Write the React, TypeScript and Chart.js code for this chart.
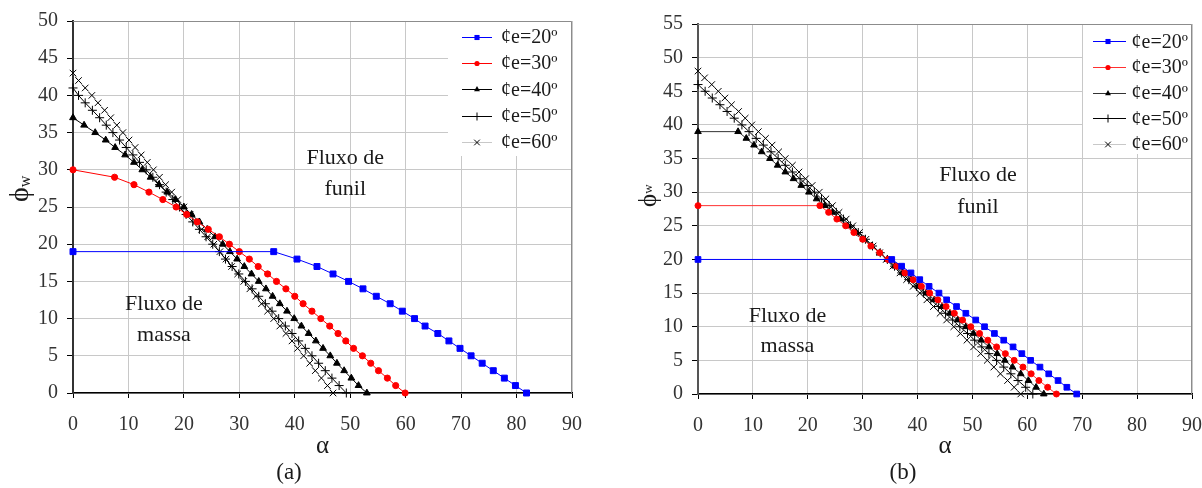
import React, { useEffect, useRef } from "react";
import { Chart, registerables } from "chart.js";
Chart.register(...registerables);

// ---------- tick labels ----------
const xTickValues = [0, 10, 20, 30, 40, 50, 60, 70, 80, 90];
const yTickValuesA = [0, 5, 10, 15, 20, 25, 30, 35, 40, 45, 50];
const yTickValuesB = [0, 5, 10, 15, 20, 25, 30, 35, 40, 45, 50, 55];
const seriesLabels = ["¢e=20º", "¢e=30º", "¢e=40º", "¢e=50º", "¢e=60º"];

// ---------- chart (a) ----------
const a20Alpha = [0, 36.2, 40.4, 44.0, 46.9, 49.7, 52.3, 54.7, 57.2, 59.4, 61.6, 63.5, 65.8, 67.8, 69.8, 71.8, 73.8, 75.8, 77.8, 79.8, 81.8];
const a20Phi = [19, 19, 18, 17, 16, 15, 14, 13, 12, 11, 10, 9, 8, 7, 6, 5, 4, 3, 2, 1, 0];

const a30Alpha = [0, 7.5, 11.0, 13.7, 16.2, 18.6, 20.5, 22.4, 24.4, 26.4, 28.2, 30.0, 31.8, 33.4, 35.1, 36.7, 38.4, 40.0, 41.5, 43.1, 44.7, 46.3, 47.8, 49.2, 50.6, 52.2, 53.7, 55.1, 56.7, 58.2, 59.9];
const a30Phi = [30, 29, 28, 27, 26, 25, 24, 23, 22, 21, 20, 19, 18, 17, 16, 15, 14, 13, 12, 11, 10, 9, 8, 7, 6, 5, 4, 3, 2, 1, 0];

const a40Alpha = [0, 2.0, 4.0, 5.9, 7.6, 9.4, 11.0, 12.5, 14.0, 15.5, 17.0, 18.5, 20.0, 21.4, 22.8, 24.2, 25.6, 27.0, 28.3, 29.6, 30.9, 32.2, 33.5, 34.8, 36.0, 37.3, 38.6, 39.9, 41.2, 42.5, 43.8, 45.1, 46.4, 47.6, 48.9, 50.2, 51.5, 53.0];
const a40Phi = [37, 36, 35, 34, 33, 32, 31, 30, 29, 28, 27, 26, 25, 24, 23, 22, 21, 20, 19, 18, 17, 16, 15, 14, 13, 12, 11, 10, 9, 8, 7, 6, 5, 4, 3, 2, 1, 0];

const a50Alpha = [0, 1.0, 2.2, 3.5, 4.8, 6.0, 7.2, 8.4, 9.6, 10.8, 12.0, 13.2, 14.4, 15.6, 16.8, 18.0, 19.2, 20.4, 21.6, 22.8, 24.0, 25.2, 26.4, 27.5, 28.7, 29.9, 31.1, 32.3, 33.5, 34.7, 35.9, 37.1, 38.3, 39.5, 40.7, 41.9, 43.1, 44.3, 45.5, 46.7, 48.0, 49.3];
const a50Phi = [41, 40, 39, 38, 37, 36, 35, 34, 33, 32, 31, 30, 29, 28, 27, 26, 25, 24, 23, 22, 21, 20, 19, 18, 17, 16, 15, 14, 13, 12, 11, 10, 9, 8, 7, 6, 5, 4, 3, 2, 1, 0];

const a60Alpha = [0, 1.0, 2.2, 3.4, 4.5, 5.7, 6.8, 7.9, 9.0, 10.1, 11.2, 12.3, 13.4, 14.5, 15.6, 16.7, 17.8, 18.9, 20.0, 21.1, 22.1, 23.2, 24.3, 25.4, 26.5, 27.6, 28.6, 29.7, 30.8, 31.9, 33.0, 34.0, 35.1, 36.2, 37.3, 38.4, 39.5, 40.5, 41.6, 42.7, 43.7, 44.8, 45.9, 46.9];
const a60Phi = [43, 42, 41, 40, 39, 38, 37, 36, 35, 34, 33, 32, 31, 30, 29, 28, 27, 26, 25, 24, 23, 22, 21, 20, 19, 18, 17, 16, 15, 14, 13, 12, 11, 10, 9, 8, 7, 6, 5, 4, 3, 2, 1, 0];

// ---------- chart (b) ----------
const b20Alpha = [0, 35.3, 37.1, 38.8, 40.4, 42.1, 43.9, 45.3, 47.1, 48.8, 50.6, 52.2, 54.0, 55.7, 57.4, 59.0, 60.6, 62.3, 63.9, 65.6, 67.2, 69.0];
const b20Phi = [20, 20, 19, 18, 17, 16, 15, 14, 13, 12, 11, 10, 9, 8, 7, 6, 5, 4, 3, 2, 1, 0];

const b30Alpha = [0, 22.2, 23.8, 25.3, 26.9, 28.4, 30.0, 31.5, 33.1, 34.6, 36.2, 37.7, 39.2, 40.7, 42.2, 43.7, 45.2, 46.7, 48.2, 49.7, 51.3, 52.8, 54.4, 56.0, 57.6, 59.2, 60.7, 62.1, 63.7, 65.3];
const b30Phi = [28, 28, 27, 26, 25, 24, 23, 22, 21, 20, 19, 18, 17, 16, 15, 14, 13, 12, 11, 10, 9, 8, 7, 6, 5, 4, 3, 2, 1, 0];

const b40Alpha = [0, 7.3, 8.8, 10.2, 11.6, 13.1, 14.5, 15.9, 17.4, 18.8, 20.2, 21.6, 23.1, 24.5, 25.9, 27.3, 28.8, 30.2, 31.6, 33.1, 34.5, 35.9, 37.3, 38.8, 40.2, 41.6, 43.1, 44.5, 45.9, 47.3, 48.8, 50.2, 51.6, 53.0, 54.5, 55.9, 57.3, 58.8, 60.2, 61.6, 63.0];
const b40Phi = [39, 39, 38, 37, 36, 35, 34, 33, 32, 31, 30, 29, 28, 27, 26, 25, 24, 23, 22, 21, 20, 19, 18, 17, 16, 15, 14, 13, 12, 11, 10, 9, 8, 7, 6, 5, 4, 3, 2, 1, 0];

const b50Alpha = [0, 1.3, 2.6, 4.0, 5.3, 6.6, 8.0, 9.3, 10.6, 11.9, 13.3, 14.6, 15.9, 17.2, 18.6, 19.9, 21.2, 22.5, 23.9, 25.2, 26.5, 27.8, 29.2, 30.5, 31.8, 33.2, 34.5, 35.8, 37.1, 38.4, 39.8, 41.1, 42.4, 43.8, 45.1, 46.4, 47.7, 49.1, 50.4, 51.7, 53.0, 54.4, 55.7, 57.0, 58.3, 59.7, 61.0];
const b50Phi = [46, 45, 44, 43, 42, 41, 40, 39, 38, 37, 36, 35, 34, 33, 32, 31, 30, 29, 28, 27, 26, 25, 24, 23, 22, 21, 20, 19, 18, 17, 16, 15, 14, 13, 12, 11, 10, 9, 8, 7, 6, 5, 4, 3, 2, 1, 0];

const b60Alpha = [0, 1.2, 2.5, 3.7, 4.9, 6.1, 7.4, 8.6, 9.8, 11.0, 12.3, 13.5, 14.7, 15.9, 17.2, 18.4, 19.6, 20.8, 22.1, 23.3, 24.5, 25.7, 27.0, 28.2, 29.4, 30.6, 31.9, 33.1, 34.3, 35.5, 36.8, 38.0, 39.2, 40.4, 41.7, 42.9, 44.1, 45.3, 46.6, 47.8, 49.0, 50.2, 51.5, 52.7, 53.9, 55.1, 56.4, 57.6, 58.8];
const b60Phi = [48, 47, 46, 45, 44, 43, 42, 41, 40, 39, 38, 37, 36, 35, 34, 33, 32, 31, 30, 29, 28, 27, 26, 25, 24, 23, 22, 21, 20, 19, 18, 17, 16, 15, 14, 13, 12, 11, 10, 9, 8, 7, 6, 5, 4, 3, 2, 1, 0];

// ---------- styles ----------
const FONT = '"Liberation Serif", "Times New Roman", serif';
type Style = { color: string; line: string; point: string; r: number; lr: number };
const stylesA: Style[] = [
  { color: "#0000ff", line: "#0000ff", point: "rect", r: 4.2, lr: 3.6 },
  { color: "#ff0000", line: "#ff0000", point: "circle", r: 3.1, lr: 2.6 },
  { color: "#000000", line: "#000000", point: "triangle", r: 3.9, lr: 3.4 },
  { color: "#000000", line: "#000000", point: "cross", r: 4.5, lr: 4 },
  { color: "#000000", line: "#c8c8c8", point: "crossRot", r: 4.6, lr: 4 },
];
const stylesB: Style[] = [
  { color: "#0000ff", line: "#0000ff", point: "rect", r: 4, lr: 3.6 },
  { color: "#ff0000", line: "#ff3030", point: "circle", r: 3, lr: 2.6 },
  { color: "#000000", line: "#333333", point: "triangle", r: 3.8, lr: 3.4 },
  { color: "#000000", line: "#000000", point: "cross", r: 4.5, lr: 4 },
  { color: "#000000", line: "#c8c8c8", point: "crossRot", r: 4.6, lr: 4 },
];

type Note = { text: string; a: number; p: number };
type Layout = {
  yW: number; xH: number; top: number; right: number; yMax: number; yTicks: number[];
  legend: { w: number; h: number; lineX0: number; lineX1: number; markX: number; textX: number; row0: number; rowStep: number };
  notes: Note[];
  phiPos: { x: number; y: number; big: number; small: number; sub: number };
  caption: { text: string; x: number; y: number };
  axisBorder: string;
};

function drawMarker(ctx: CanvasRenderingContext2D, style: string, x: number, y: number, r: number, color: string) {
  ctx.save();
  ctx.fillStyle = color;
  ctx.strokeStyle = color;
  ctx.lineWidth = 1;
  ctx.beginPath();
  if (style === "rect") {
    const s = r * Math.SQRT1_2;
    ctx.rect(x - s, y - s, 2 * s, 2 * s);
    ctx.fill();
  } else if (style === "circle") {
    ctx.arc(x, y, r, 0, Math.PI * 2);
    ctx.fill();
  } else if (style === "triangle") {
    ctx.moveTo(x, y - r);
    ctx.lineTo(x + r * 0.866, y + r * 0.5);
    ctx.lineTo(x - r * 0.866, y + r * 0.5);
    ctx.closePath();
    ctx.fill();
  } else if (style === "cross") {
    ctx.moveTo(x, y - r);
    ctx.lineTo(x, y + r);
    ctx.moveTo(x - r, y);
    ctx.lineTo(x + r, y);
    ctx.stroke();
  } else {
    const d = r * Math.SQRT1_2;
    ctx.moveTo(x - d, y - d);
    ctx.lineTo(x + d, y + d);
    ctx.moveTo(x + d, y - d);
    ctx.lineTo(x - d, y + d);
    ctx.stroke();
  }
  ctx.restore();
}

function makePlugin(L: Layout, styles: Style[]) {
  return {
    id: "decor",
    afterDraw(chart: any) {
      const { ctx, chartArea: ca, scales } = chart;
      const xs = scales.x, ys = scales.y;
      ctx.save();
      // region notes
      ctx.font = `22px ${FONT}`;
      ctx.fillStyle = "#1a1a1a";
      ctx.textAlign = "center";
      ctx.textBaseline = "middle";
      for (const n of L.notes) ctx.fillText(n.text, xs.getPixelForValue(n.a), ys.getPixelForValue(n.p));

      // legend
      const lg = L.legend;
      const bx = ca.right - lg.w;
      const by = ca.top;
      ctx.fillStyle = "#ffffff";
      ctx.fillRect(bx, by + 1, lg.w - 1, lg.h);
      ctx.font = `20px ${FONT}`;
      ctx.textAlign = "left";
      ctx.textBaseline = "middle";
      chart.data.datasets.forEach((ds: any, i: number) => {
        const st = styles[i];
        const yy = by + lg.row0 + i * lg.rowStep;
        ctx.strokeStyle = st.line;
        ctx.lineWidth = 1;
        ctx.beginPath();
        ctx.moveTo(bx + lg.lineX0, Math.round(yy) + 0.5);
        ctx.lineTo(bx + lg.lineX1, Math.round(yy) + 0.5);
        ctx.stroke();
        drawMarker(ctx, st.point, bx + lg.markX, Math.round(yy) + 0.5, st.lr, st.color);
        ctx.fillStyle = "#1a1a1a";
        ctx.fillText(ds.label, bx + lg.textX, yy + 1);
      });

      // top & right border
      ctx.strokeStyle = "#8c8c8c";
      ctx.lineWidth = 1;
      ctx.beginPath();
      ctx.moveTo(ca.left, Math.round(ca.top) + 0.5);
      ctx.lineTo(Math.round(ca.right) - 0.5, Math.round(ca.top) + 0.5);
      ctx.lineTo(Math.round(ca.right) - 0.5, ca.bottom);
      ctx.stroke();

      // x title
      ctx.fillStyle = "#1a1a1a";
      ctx.font = `25px ${FONT}`;
      ctx.textAlign = "center";
      ctx.textBaseline = "middle";
      ctx.fillText("α", (ca.left + ca.right) / 2, 446);

      // caption
      ctx.font = `23px ${FONT}`;
      ctx.fillText(L.caption.text, L.caption.x, L.caption.y);

      // y title (rotated ϕw)
      const p = L.phiPos;
      ctx.save();
      ctx.translate(p.x, p.y);
      ctx.rotate(-Math.PI / 2);
      ctx.textAlign = "left";
      ctx.textBaseline = "alphabetic";
      ctx.font = `${p.big}px ${FONT}`;
      ctx.fillText("ϕ", 0, 0);
      const w = ctx.measureText("ϕ").width;
      ctx.font = `${p.small}px ${FONT}`;
      ctx.fillText("w", w, p.sub);
      ctx.restore();

      ctx.restore();
    },
  };
}

function buildConfig(alphas: number[][], phis: number[][], styles: Style[], L: Layout) {
  return {
    type: "scatter" as const,
    data: {
      datasets: alphas.map((al, i) => ({
        label: seriesLabels[i],
        data: al.map((a, j) => ({ x: a, y: phis[i][j] })),
        showLine: true,
        borderColor: styles[i].line,
        borderWidth: 1,
        pointStyle: styles[i].point,
        pointRadius: styles[i].r,
        pointBackgroundColor: styles[i].color,
        pointBorderColor: styles[i].color,
        pointBorderWidth: 1,
        clip: false,
        tension: 0,
      })),
    },
    options: {
      responsive: false,
      animation: false,
      events: [],
      layout: { padding: { top: L.top, right: L.right, left: 0, bottom: 0 } },
      plugins: { legend: { display: false }, tooltip: { enabled: false } },
      scales: {
        x: {
          type: "linear",
          min: 0,
          max: 90,
          afterBuildTicks: (s: any) => {
            s.ticks = xTickValues.map((v) => ({ value: v }));
          },
          afterFit: (s: any) => {
            s.height = L.xH;
          },
          ticks: { font: { family: FONT, size: 20 }, color: "#333333", padding: 15, maxRotation: 0, autoSkip: false },
          grid: { color: "#c8c8c8", lineWidth: 1, tickColor: "#000000", tickLength: 5, drawTicks: true },
          border: { color: "#000000", width: 1.5 },
        },
        y: {
          type: "linear",
          min: 0,
          max: L.yMax,
          afterBuildTicks: (s: any) => {
            s.ticks = L.yTicks.map((v) => ({ value: v }));
          },
          afterFit: (s: any) => {
            s.width = L.yW;
          },
          ticks: { font: { family: FONT, size: 20 }, color: "#333333", padding: 9 },
          grid: { color: "#c8c8c8", lineWidth: 1, tickColor: "#000000", tickLength: 6, drawTicks: true },
          border: { color: L.axisBorder, width: 2 },
        },
      },
    },
    plugins: [makePlugin(L, styles)],
  };
}

const layoutA: Layout = {
  yW: 73, xH: 95, top: 19, right: 28, yMax: 50, yTicks: yTickValuesA,
  legend: { w: 124, h: 134, lineX0: 14, lineX1: 44, markX: 29, textX: 53, row0: 16, rowStep: 26.2 },
  notes: [
    { text: "Fluxo de", a: 49.1, p: 31.6 },
    { text: "funil", a: 49.1, p: 27.4 },
    { text: "Fluxo de", a: 16.4, p: 11.9 },
    { text: "massa", a: 16.4, p: 7.8 },
  ],
  phiPos: { x: 28, y: 202, big: 28, small: 16, sub: 2 },
  caption: { text: "(a)", x: 289, y: 473 },
  axisBorder: "#333333",
};

const layoutB: Layout = {
  yW: 98, xH: 94, top: 24, right: 28, yMax: 55, yTicks: yTickValuesB,
  legend: { w: 109, h: 129, lineX0: 10, lineX1: 43, markX: 25, textX: 48.5, row0: 17.3, rowStep: 25.7 },
  notes: [
    { text: "Fluxo de", a: 51.0, p: 32.5 },
    { text: "funil", a: 51.0, p: 27.8 },
    { text: "Fluxo de", a: 16.3, p: 11.6 },
    { text: "massa", a: 16.3, p: 7.1 },
  ],
  phiPos: { x: 56, y: 207, big: 25, small: 13, sub: -4 },
  caption: { text: "(b)", x: 303, y: 473 },
  axisBorder: "#555555",
};

function ChartCanvas(props: { make: () => any; left: number; width: number }) {
  const ref = useRef<HTMLCanvasElement>(null);
  useEffect(() => {
    const chart = new Chart(ref.current as HTMLCanvasElement, props.make());
    return () => chart.destroy();
  }, []);
  return (
    <canvas
      ref={ref}
      width={props.width}
      height={488}
      style={{ position: "absolute", left: props.left, top: 0, width: props.width, height: 488 }}
    />
  );
}

export default function App() {
  return (
    <div style={{ position: "absolute", left: 0, top: 0, width: 1202, height: 488, overflow: "hidden", background: "#ffffff" }}>
      <ChartCanvas
        left={0}
        width={600}
        make={() =>
          buildConfig(
            [a20Alpha, a30Alpha, a40Alpha, a50Alpha, a60Alpha],
            [a20Phi, a30Phi, a40Phi, a50Phi, a60Phi],
            stylesA,
            layoutA
          )
        }
      />
      <ChartCanvas
        left={600}
        width={620}
        make={() =>
          buildConfig(
            [b20Alpha, b30Alpha, b40Alpha, b50Alpha, b60Alpha],
            [b20Phi, b30Phi, b40Phi, b50Phi, b60Phi],
            stylesB,
            layoutB
          )
        }
      />
    </div>
  );
}
